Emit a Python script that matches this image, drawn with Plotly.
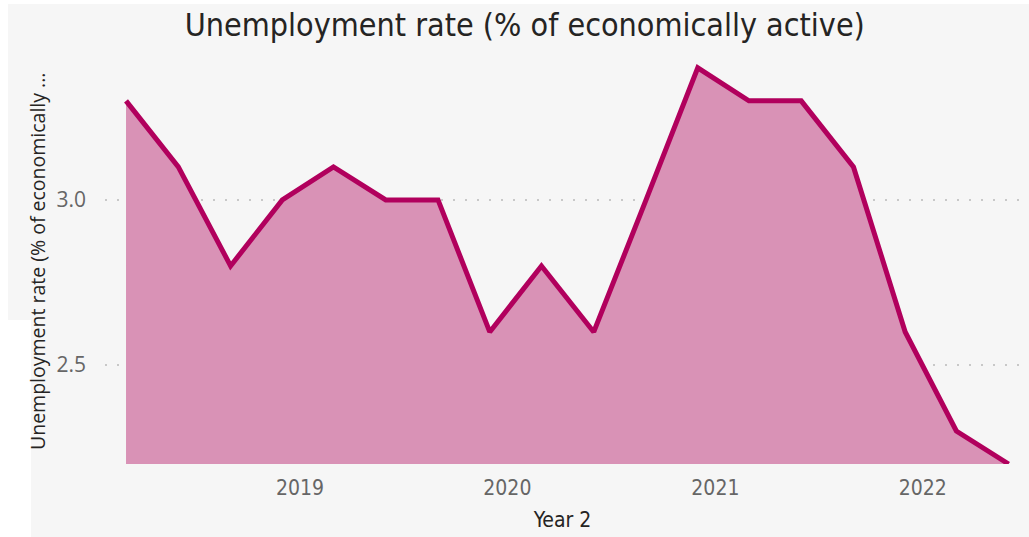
import plotly.graph_objects as go

quarters = ["2018-03-01", "2018-06-01", "2018-09-01", "2018-12-01",
            "2019-03-01", "2019-06-01", "2019-09-01", "2019-12-01",
            "2020-03-01", "2020-06-01", "2020-09-01", "2020-12-01",
            "2021-03-01", "2021-06-01", "2021-09-01", "2021-12-01",
            "2022-03-01", "2022-06-01"]
unemployment = [3.3, 3.1, 2.8, 3.0, 3.1, 3.0, 3.0, 2.6, 2.8, 2.6,
                3.0, 3.4, 3.3, 3.3, 3.1, 2.6, 2.3, 2.2]
year_ticks = ["2019-01-01", "2020-01-01", "2021-01-01", "2022-01-01"]
year_labels = ["2019", "2020", "2021", "2022"]
y_ticks = [2.5, 3.0]

W, H = 1029, 537
L, R, T, B = 105, 9, 52, 73
pw, ph = W - L - R, H - T - B

def px_x(p):
    return (p - L) / pw

def px_y(p):
    return (H - B - p) / ph

narrow = "Liberation Sans Narrow, DejaVu Sans Condensed, sans-serif"

fig = go.Figure()
fig.add_trace(go.Scatter(
    x=quarters, y=unemployment, mode="lines",
    line=dict(color="#b1005d", width=5, shape="linear"),
    fill="tozeroy", fillcolor="#d992b6",
    hoverinfo="skip", showlegend=False,
))

gray = "#f6f6f6"
fig.update_layout(
    width=W, height=H,
    margin=dict(l=L, r=R, t=T, b=B, pad=0),
    paper_bgcolor="white", plot_bgcolor="rgba(0,0,0,0)",
    title=dict(text="Unemployment rate (% of economically active)",
               x=0.51, xanchor="center", y=1 - 25 / H, yanchor="middle",
               font=dict(family=narrow, size=32, color="#252423")),
    shapes=[
        dict(type="rect", xref="paper", yref="paper", layer="below",
             x0=px_x(8), x1=px_x(W + 2), y0=px_y(320), y1=px_y(4),
             fillcolor=gray, line=dict(width=0)),
        dict(type="rect", xref="paper", yref="paper", layer="below",
             x0=px_x(31), x1=px_x(W + 2), y0=px_y(H + 2), y1=px_y(4),
             fillcolor=gray, line=dict(width=0)),
    ],
    annotations=[
        dict(text="Unemployment rate (% of economically ...", xref="paper", yref="paper",
             x=px_x(37), y=px_y(262), textangle=-90, showarrow=False,
             xanchor="center", yanchor="middle",
             font=dict(family="Open Sans, sans-serif", size=19.5, color="#252423")),
    ],
)

fig.update_xaxes(
    type="date", range=["2018-01-23", "2022-06-21"],
    tickvals=year_ticks, ticktext=year_labels,
    showgrid=False, zeroline=False, showline=False, ticks="",
    ticklabelstandoff=9,
    tickfont=dict(family=narrow, size=21, color="#666666"),
    title=dict(text="Year 2", standoff=13,
               font=dict(family=narrow, size=21, color="#252423")),
)
fig.update_yaxes(
    range=[2.2, 3.448], tickvals=y_ticks, ticktext=["2.5", "3.0"],
    showgrid=True, gridcolor="#c8c8c8", gridwidth=1.5, griddash="2px,10px",
    zeroline=False, showline=False, ticks="", ticklabelstandoff=18,
    tickfont=dict(family="Open Sans, sans-serif", size=21, color="#666666"),
)

fig.write_html("out.html", config={"displayModeBar": False},
               post_script="document.body.style.margin='0';")
